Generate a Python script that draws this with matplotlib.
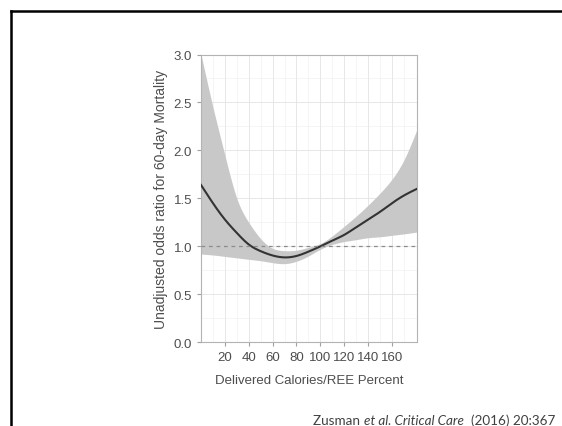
import numpy as np
import matplotlib
matplotlib.use("Agg")
import matplotlib.pyplot as plt
from matplotlib.lines import Line2D

# Delivered calories / REE percent
calories = [0, 10, 20, 30, 40, 50, 60, 70, 80, 90, 100,
            110, 120, 130, 140, 150, 160, 170, 181]
# unadjusted odds ratio and its confidence band
odds = [1.64, 1.45, 1.28, 1.14, 1.02, 0.95, 0.905, 0.885, 0.90, 0.945, 1.0,
        1.06, 1.12, 1.20, 1.28, 1.36, 1.45, 1.53, 1.60]
upper = [3.0, 2.45, 1.95, 1.50, 1.25, 1.08, 0.98, 0.955, 0.96, 0.99, 1.03,
         1.11, 1.21, 1.315, 1.43, 1.555, 1.70, 1.90, 2.22]
lower = [0.92, 0.91, 0.895, 0.88, 0.865, 0.85, 0.83, 0.82, 0.845, 0.90, 0.97,
         1.02, 1.05, 1.07, 1.09, 1.10, 1.115, 1.13, 1.15]

x_ticks = [20, 40, 60, 80, 100, 120, 140, 160]
y_ticks = [0.0, 0.5, 1.0, 1.5, 2.0, 2.5, 3.0]


def spline(x, y, xs):
    # natural cubic spline through the read-off points
    x = np.asarray(x, float)
    y = np.asarray(y, float)
    n = len(x)
    h = np.diff(x)
    A = np.zeros((n, n))
    b = np.zeros(n)
    A[0, 0] = A[-1, -1] = 1
    for i in range(1, n - 1):
        A[i, i - 1] = h[i - 1]
        A[i, i] = 2 * (h[i - 1] + h[i])
        A[i, i + 1] = h[i]
        b[i] = 6 * ((y[i + 1] - y[i]) / h[i] - (y[i] - y[i - 1]) / h[i - 1])
    m = np.linalg.solve(A, b)
    k = np.clip(np.searchsorted(x, xs) - 1, 0, n - 2)
    t = xs - x[k]
    hk = h[k]
    return (m[k] * (x[k + 1] - xs) ** 3 / (6 * hk) + m[k + 1] * t ** 3 / (6 * hk)
            + (y[k] / hk - m[k] * hk / 6) * (x[k + 1] - xs)
            + (y[k + 1] / hk - m[k + 1] * hk / 6) * t)


plt.rcParams['font.family'] = ['Liberation Sans', 'DejaVu Sans']

fig = plt.figure(figsize=(5.62, 4.27), dpi=100)
ax = fig.add_axes([0.3577, 0.196, 0.3843, 0.674])

xs = np.linspace(calories[0], calories[-1], 500)
ax.fill_between(xs, spline(calories, lower, xs), spline(calories, upper, xs),
                color='#c8c8c8', lw=0, zorder=2)
ax.plot(xs, spline(calories, odds, xs), color='#333333', lw=1.5, zorder=3)
ax.axhline(1.0, color='#8c8c8c', lw=0.9, ls=(0, (3, 3)), zorder=4)

ax.set_xlim(0, 181)
ax.set_ylim(0, 3)
ax.set_xticks(x_ticks)
ax.set_yticks(y_ticks)
ax.set_yticklabels([f'{v:.1f}' for v in y_ticks])
ax.set_xticks(np.arange(10, 181, 20), minor=True)
ax.set_yticks(np.arange(0.25, 3, 0.5), minor=True)
ax.grid(True, which='major', color='#e3e3e3', lw=0.6, zorder=0)
ax.grid(True, which='minor', color='#eeeeee', lw=0.4, zorder=0)
ax.set_axisbelow(True)
ax.tick_params(which='major', length=3, color='#a0a0a0', labelcolor='#4d4d4d',
               labelsize=9.5)
ax.tick_params(which='minor', length=0)
for s in ax.spines.values():
    s.set_color('#b3b3b3')
    s.set_linewidth(0.8)

ax.set_xlabel('Delivered Calories/REE Percent', color='#4d4d4d', fontsize=9.5,
              labelpad=8)
ax.set_ylabel('Unadjusted odds ratio for 60-day Mortality', color='#4d4d4d',
              fontsize=10, labelpad=4)

# slide frame
fig.add_artist(Line2D([11 / 562, 11 / 562], [0, 1 - 12 / 427],
                      transform=fig.transFigure, color='black', lw=1.8))
fig.add_artist(Line2D([11 / 562, 1], [1 - 12 / 427, 1 - 12 / 427],
                      transform=fig.transFigure, color='black', lw=1.8))

# citation, written piece by piece so italics can be mixed in;
# font size is scaled so that it spans x=313..556 like the slide
pieces = [('Zusman ', 'normal'), ('et al. Critical Care', 'italic'),
          ('  (2016) 20:367', 'normal')]
fig.canvas.draw()
renderer = fig.canvas.get_renderer()
size = 10.0
widths = []
for txt, style in pieces:
    t = fig.text(0, 0, txt, fontsize=size, family='Lato', style=style)
    widths.append(t.get_window_extent(renderer).width)
    t.remove()
size = size * 243 / sum(widths)
x0 = 313
for txt, style in pieces:
    t = fig.text(x0 / 562, 1 - 421 / 427, txt, fontsize=size, color='#404040',
                 family='Lato', style=style, va='center', ha='left')
    x0 += t.get_window_extent(renderer).width

fig.savefig('out.png', dpi=100)
